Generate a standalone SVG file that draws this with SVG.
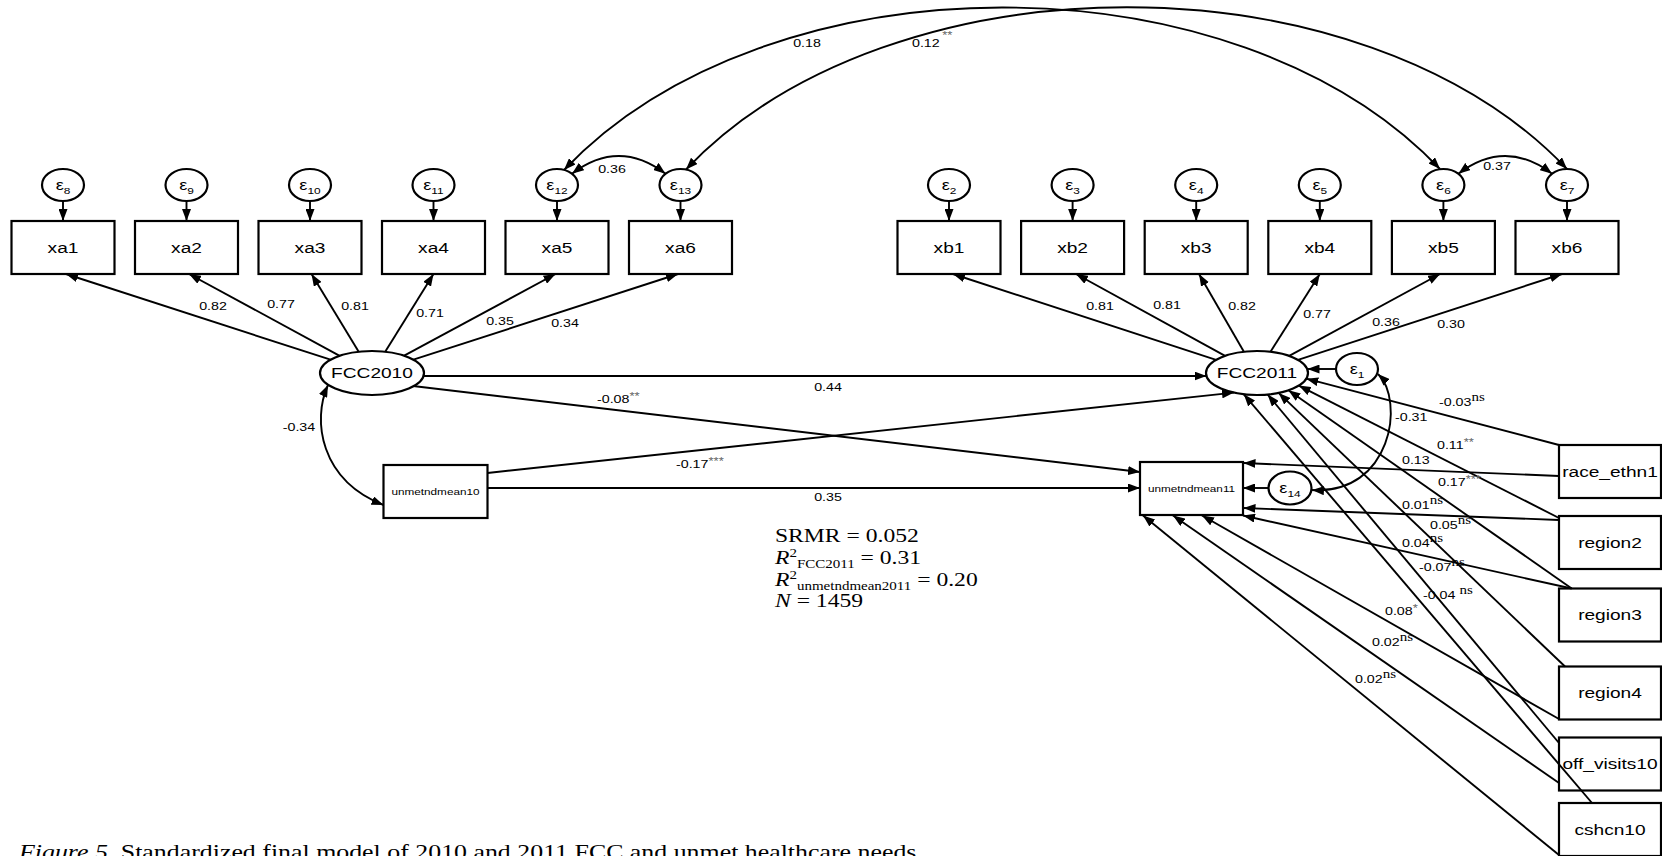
<svg xmlns="http://www.w3.org/2000/svg" width="1662" height="856" viewBox="0 0 1662 856">
<defs>
<style>
.node rect, .node ellipse { fill:#fff; stroke:#000; stroke-width:2.2; }
.conn line, .conn path { fill:none; stroke:#000; stroke-width:1.9; }
.arr { marker-end:url(#ah); }
.dbl { marker-start:url(#ah); marker-end:url(#ah); }
text { font-family:"Liberation Sans", Arial, sans-serif; fill:#000; transform:scale(1.25,1); }
.lbl { font-size:15.3px; text-anchor:middle; }
.sm { font-size:9.4px; text-anchor:middle; }
.eps { font-size:14.5px; text-anchor:middle; }
.sub { font-size:9.5px; }
.coef { font-size:11.4px; }
.mid { text-anchor:middle; }
.ns { font-family:"Liberation Serif", "Times New Roman", serif; font-size:12px; }
.st { fill:#666; font-size:10.5px; }
.serif { font-family:"Liberation Serif", "Times New Roman", serif; font-size:18.9px; }
.cap { font-family:"Liberation Serif", "Times New Roman", serif; font-size:20.7px; }
</style>
<marker id="ah" viewBox="0 0 12 9" refX="12" refY="4.5" markerWidth="12" markerHeight="9" markerUnits="userSpaceOnUse" orient="auto-start-reverse"><path d="M0,0L12,4.5L0,9z" fill="#000"/></marker>
</defs>
<rect width="1662" height="856" fill="#fff"/>

<!-- indicator boxes -->
<g id="xa1" class="node"><rect x="11.5" y="221" width="103" height="53"/><text class="lbl" x="50.4" y="253">xa1</text></g>
<g id="xa2" class="node"><rect x="135" y="221" width="103" height="53"/><text class="lbl" x="149.2" y="253">xa2</text></g>
<g id="xa3" class="node"><rect x="258.5" y="221" width="103" height="53"/><text class="lbl" x="248" y="253">xa3</text></g>
<g id="xa4" class="node"><rect x="382" y="221" width="103" height="53"/><text class="lbl" x="346.8" y="253">xa4</text></g>
<g id="xa5" class="node"><rect x="505.5" y="221" width="103" height="53"/><text class="lbl" x="445.6" y="253">xa5</text></g>
<g id="xa6" class="node"><rect x="629" y="221" width="103" height="53"/><text class="lbl" x="544.4" y="253">xa6</text></g>
<g id="xb1" class="node"><rect x="897.5" y="221" width="103" height="53"/><text class="lbl" x="759.2" y="253">xb1</text></g>
<g id="xb2" class="node"><rect x="1021.1" y="221" width="103" height="53"/><text class="lbl" x="858.08" y="253">xb2</text></g>
<g id="xb3" class="node"><rect x="1144.7" y="221" width="103" height="53"/><text class="lbl" x="956.96" y="253">xb3</text></g>
<g id="xb4" class="node"><rect x="1268.3" y="221" width="103" height="53"/><text class="lbl" x="1055.84" y="253">xb4</text></g>
<g id="xb5" class="node"><rect x="1391.9" y="221" width="103" height="53"/><text class="lbl" x="1154.72" y="253">xb5</text></g>
<g id="xb6" class="node"><rect x="1515.5" y="221" width="103" height="53"/><text class="lbl" x="1253.6" y="253">xb6</text></g>

<!-- error terms -->
<g id="e8" class="node"><ellipse cx="63" cy="185" rx="21" ry="16"/><text class="eps" x="50.4" y="190">ε<tspan class="sub" dy="4">8</tspan></text></g>
<g id="e9" class="node"><ellipse cx="186.5" cy="185" rx="21" ry="16"/><text class="eps" x="149.2" y="190">ε<tspan class="sub" dy="4">9</tspan></text></g>
<g id="e10" class="node"><ellipse cx="310" cy="185" rx="21" ry="16"/><text class="eps" x="248" y="190">ε<tspan class="sub" dy="4">10</tspan></text></g>
<g id="e11" class="node"><ellipse cx="433.5" cy="185" rx="21" ry="16"/><text class="eps" x="346.8" y="190">ε<tspan class="sub" dy="4">11</tspan></text></g>
<g id="e12" class="node"><ellipse cx="557" cy="185" rx="21" ry="16"/><text class="eps" x="445.6" y="190">ε<tspan class="sub" dy="4">12</tspan></text></g>
<g id="e13" class="node"><ellipse cx="680.5" cy="185" rx="21" ry="16"/><text class="eps" x="544.4" y="190">ε<tspan class="sub" dy="4">13</tspan></text></g>
<g id="e2" class="node"><ellipse cx="949" cy="185" rx="21" ry="16"/><text class="eps" x="759.2" y="190">ε<tspan class="sub" dy="4">2</tspan></text></g>
<g id="e3" class="node"><ellipse cx="1072.6" cy="185" rx="21" ry="16"/><text class="eps" x="858.08" y="190">ε<tspan class="sub" dy="4">3</tspan></text></g>
<g id="e4" class="node"><ellipse cx="1196.2" cy="185" rx="21" ry="16"/><text class="eps" x="956.96" y="190">ε<tspan class="sub" dy="4">4</tspan></text></g>
<g id="e5" class="node"><ellipse cx="1319.8" cy="185" rx="21" ry="16"/><text class="eps" x="1055.84" y="190">ε<tspan class="sub" dy="4">5</tspan></text></g>
<g id="e6" class="node"><ellipse cx="1443.4" cy="185" rx="21" ry="16"/><text class="eps" x="1154.72" y="190">ε<tspan class="sub" dy="4">6</tspan></text></g>
<g id="e7" class="node"><ellipse cx="1567" cy="185" rx="21" ry="16"/><text class="eps" x="1253.6" y="190">ε<tspan class="sub" dy="4">7</tspan></text></g>
<g id="e1" class="node"><ellipse cx="1357" cy="369" rx="21" ry="16"/><text class="eps" x="1085.6" y="374">ε<tspan class="sub" dy="4">1</tspan></text></g>
<g id="e14" class="node"><ellipse cx="1290" cy="488" rx="21.5" ry="16.5"/><text class="eps" x="1032" y="493">ε<tspan class="sub" dy="4">14</tspan></text></g>

<!-- latent and observed variables -->
<g id="FCC2010" class="node"><ellipse cx="372" cy="373" rx="52" ry="22"/><text class="lbl" x="297.6" y="378.3">FCC2010</text></g>
<g id="FCC2011" class="node"><ellipse cx="1257" cy="373" rx="51" ry="22"/><text class="lbl" x="1005.6" y="378.3">FCC2011</text></g>
<g id="unmetndmean10" class="node"><rect x="383.5" y="465" width="104" height="53"/><text class="sm" x="348.4" y="494.8">unmetndmean10</text></g>
<g id="unmetndmean11" class="node"><rect x="1140" y="462" width="103" height="53"/><text class="sm" x="953.2" y="491.8">unmetndmean11</text></g>
<g id="race_ethn1" class="node"><rect x="1559" y="445" width="102" height="53"/><text class="lbl" x="1288" y="476.8">race_ethn1</text></g>
<g id="region2" class="node"><rect x="1559" y="516" width="102" height="53"/><text class="lbl" x="1288" y="547.8">region2</text></g>
<g id="region3" class="node"><rect x="1559" y="588.5" width="102" height="53"/><text class="lbl" x="1288" y="620.3">region3</text></g>
<g id="region4" class="node"><rect x="1559" y="666.5" width="102" height="53"/><text class="lbl" x="1288" y="698.3">region4</text></g>
<g id="off_visits10" class="node"><rect x="1559" y="737.5" width="102" height="53"/><text class="lbl" x="1288" y="769.3">off_visits10</text></g>
<g id="cshcn10" class="node"><rect x="1559" y="803" width="102" height="53"/><text class="lbl" x="1288" y="834.8">cshcn10</text></g>

<g id="connectors" class="conn">
<!-- error to indicator -->
<line class="arr" x1="63" y1="201" x2="63" y2="221"/>
<line class="arr" x1="186.5" y1="201" x2="186.5" y2="221"/>
<line class="arr" x1="310" y1="201" x2="310" y2="221"/>
<line class="arr" x1="433.5" y1="201" x2="433.5" y2="221"/>
<line class="arr" x1="557" y1="201" x2="557" y2="221"/>
<line class="arr" x1="680.5" y1="201" x2="680.5" y2="221"/>
<line class="arr" x1="949" y1="201" x2="949" y2="221"/>
<line class="arr" x1="1072.6" y1="201" x2="1072.6" y2="221"/>
<line class="arr" x1="1196.2" y1="201" x2="1196.2" y2="221"/>
<line class="arr" x1="1319.8" y1="201" x2="1319.8" y2="221"/>
<line class="arr" x1="1443.4" y1="201" x2="1443.4" y2="221"/>
<line class="arr" x1="1567" y1="201" x2="1567" y2="221"/>
<!-- loadings FCC2010 -->
<line class="arr" x1="330.5" y1="359.7" x2="66" y2="274"/>
<line class="arr" x1="339.7" y1="355.8" x2="189" y2="274"/>
<line class="arr" x1="358.7" y1="351.7" x2="311.5" y2="274"/>
<line class="arr" x1="385.2" y1="351.7" x2="433.5" y2="274"/>
<line class="arr" x1="404.2" y1="355.7" x2="555.5" y2="274"/>
<line class="arr" x1="413.4" y1="359.7" x2="678" y2="274"/>
<!-- loadings FCC2011 -->
<line class="arr" x1="1216.1" y1="359.9" x2="953" y2="274"/>
<line class="arr" x1="1225.1" y1="355.9" x2="1076" y2="274"/>
<line class="arr" x1="1243.9" y1="351.7" x2="1199" y2="274"/>
<line class="arr" x1="1270.5" y1="351.8" x2="1319.8" y2="274"/>
<line class="arr" x1="1289.2" y1="355.9" x2="1440" y2="274"/>
<line class="arr" x1="1298" y1="359.9" x2="1562" y2="274"/>
<!-- structural paths -->
<line class="arr" x1="423.5" y1="376" x2="1206.5" y2="376"/>
<line class="arr" x1="413" y1="386" x2="1140" y2="472"/>
<line class="arr" x1="487.5" y1="473" x2="1234" y2="392.6"/>
<line class="arr" x1="487.5" y1="488" x2="1140" y2="488"/>
<path class="dbl" d="M328,385 C312,420 320,480 383.5,505"/>
<line class="arr" x1="1336" y1="369" x2="1307.5" y2="369"/>
<line class="arr" x1="1268.5" y1="488" x2="1243" y2="488"/>
<path class="dbl" d="M1378,374 C1405,400 1392,495 1312,490"/>
<!-- error covariances -->
<path class="dbl" d="M572,173.7 Q618.8,138.3 665.5,173.7"/>
<path class="dbl" d="M1458.4,173.7 Q1505.2,138.3 1552,173.7"/>
<path class="dbl" d="M564,170 C769,-46 1235,-47 1440,169"/>
<path class="dbl" d="M686,169.5 C891,-46.5 1362,-47 1567,169"/>
<!-- exogenous covariates -->
<line class="arr" x1="1559" y1="445" x2="1306.3" y2="378.7"/>
<line class="arr" x1="1559" y1="476" x2="1243.5" y2="463"/>
<line class="arr" x1="1559" y1="518" x2="1298.8" y2="385.6"/>
<line class="arr" x1="1559" y1="520" x2="1243.5" y2="508"/>
<line class="arr" x1="1571.7" y1="588.5" x2="1288.4" y2="390.3"/>
<line class="arr" x1="1571.7" y1="588.5" x2="1243" y2="515.5"/>
<line class="arr" x1="1565" y1="666.5" x2="1278.6" y2="392.9"/>
<line class="arr" x1="1559" y1="719" x2="1202" y2="515.5"/>
<line class="arr" x1="1559" y1="743" x2="1267.6" y2="394.5"/>
<line class="arr" x1="1559" y1="783" x2="1173" y2="515.5"/>
<line class="arr" x1="1592" y1="803" x2="1243.8" y2="394.3"/>
<line class="arr" x1="1559" y1="855" x2="1143" y2="515.5"/>
</g>

<g id="labels">
<text class="coef mid" x="170.4" y="310">0.82</text>
<text class="coef mid" x="224.8" y="308">0.77</text>
<text class="coef mid" x="284" y="310">0.81</text>
<text class="coef mid" x="344" y="317">0.71</text>
<text class="coef mid" x="400" y="325">0.35</text>
<text class="coef mid" x="452" y="327">0.34</text>
<text class="coef mid" x="880" y="310">0.81</text>
<text class="coef mid" x="933.6" y="309">0.81</text>
<text class="coef mid" x="993.6" y="310">0.82</text>
<text class="coef mid" x="1053.6" y="318">0.77</text>
<text class="coef mid" x="1108.8" y="326">0.36</text>
<text class="coef mid" x="1160.8" y="328">0.30</text>
<text class="coef mid" x="662.4" y="391">0.44</text>
<text class="coef" x="477.6" y="403">-0.08<tspan class="st" dy="-3">**</tspan></text>
<text class="coef mid" x="239.2" y="431">-0.34</text>
<text class="coef" x="540.8" y="468">-0.17<tspan class="st" dy="-3">***</tspan></text>
<text class="coef mid" x="662.4" y="501">0.35</text>
<text class="coef mid" x="489.6" y="173">0.36</text>
<text class="coef mid" x="1197.6" y="170">0.37</text>
<text class="coef mid" x="645.6" y="47">0.18</text>
<text class="coef" x="729.6" y="47">0.12<tspan class="st" dy="-8" dx="2">**</tspan></text>
<text class="coef" x="1151.2" y="406">-0.03<tspan class="ns" dy="-5">ns</tspan></text>
<text class="coef" x="1116" y="421">-0.31</text>
<text class="coef" x="1149.6" y="449">0.11<tspan class="st" dy="-3">**</tspan></text>
<text class="coef" x="1121.6" y="464">0.13</text>
<text class="coef" x="1150.4" y="486">0.17<tspan class="st" dy="-3">***</tspan></text>
<text class="coef" x="1121.6" y="509">0.01<tspan class="ns" dy="-5">ns</tspan></text>
<text class="coef" x="1144" y="529">0.05<tspan class="ns" dy="-5">ns</tspan></text>
<text class="coef" x="1121.6" y="547">0.04<tspan class="ns" dy="-5">ns</tspan></text>
<text class="coef" x="1135.2" y="571">-0.07<tspan class="ns" dy="-5">ns</tspan></text>
<text class="coef" x="1138.4" y="599">-0.04 <tspan class="ns" dy="-5">ns</tspan></text>
<text class="coef" x="1108" y="615">0.08<tspan class="st" dy="-3">*</tspan></text>
<text class="coef" x="1097.6" y="646">0.02<tspan class="ns" dy="-5">ns</tspan></text>
<text class="coef" x="1084" y="683">0.02<tspan class="ns" dy="-5">ns</tspan></text>
</g>

<g id="fit-stats">
<text class="serif" x="620" y="541.7">SRMR = 0.052</text>
<text class="serif" x="620" y="564"><tspan font-style="italic">R</tspan><tspan font-size="12" dy="-7">2</tspan><tspan font-size="12" dy="11">FCC2011</tspan><tspan dy="-4"> = 0.31</tspan></text>
<text class="serif" x="620" y="586"><tspan font-style="italic">R</tspan><tspan font-size="12" dy="-7">2</tspan><tspan font-size="12" dy="11">unmetndmean2011</tspan><tspan dy="-4"> = 0.20</tspan></text>
<text class="serif" x="620" y="607.3"><tspan font-style="italic">N</tspan> = 1459</text>
</g>

<g id="caption">
<text class="cap" x="15.2" y="858.7"><tspan font-style="italic">Figure 5.</tspan> Standardized final model of 2010 and 2011 FCC and unmet healthcare needs.</text>
</g>
</svg>
